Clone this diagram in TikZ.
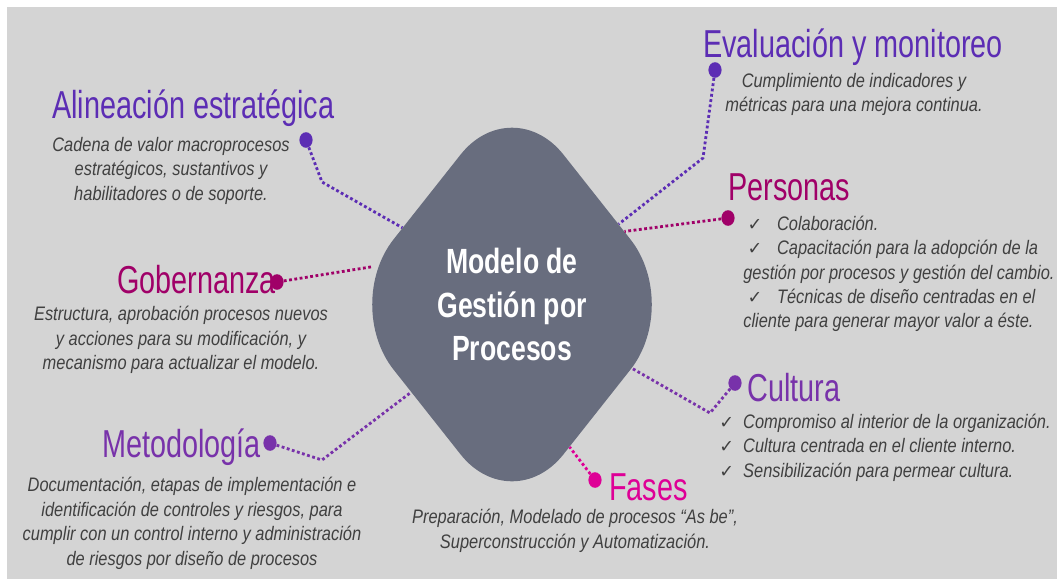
\documentclass[tikz,border=0pt]{standalone}
\usepackage{fontspec}
\setmainfont{Liberation Sans}
\newfontfamily\ttlfont{Liberation Sans}[FakeStretch=0.74]
\newfontfamily\dscfont{Liberation Sans}[FakeStretch=0.84]
\newfontfamily\mdlfont{Liberation Sans}[FakeStretch=0.76]
\newfontfamily\tickfont{DejaVu Sans}
\usetikzlibrary{shapes,positioning}

\definecolor{bggray}{RGB}{212,212,212}
\definecolor{modelgray}{RGB}{104,109,126}
\definecolor{textgray}{RGB}{64,64,64}
\definecolor{bluepurple}{RGB}{92,45,180}
\definecolor{wine}{RGB}{160,0,104}
\definecolor{violet}{RGB}{120,50,170}
\definecolor{pink}{RGB}{222,0,150}

% check mark with box width and left shift
\newcommand{\chk}[2]{\makebox[#1][l]{\hspace*{#2}{\tickfont\fontsize{12.5}{12}\selectfont ✓}}}

\begin{document}
\begin{tikzpicture}[
    x=0.025cm, y=-0.025cm,
    title node/.style={inner sep=0pt, anchor=base west, font=\ttlfont\fontsize{27.7}{30}\selectfont},
    desc node/.style={inner sep=0pt, anchor=north, align=center, text=textgray, font=\dscfont\itshape\fontsize{13.9}{17.4}\selectfont},
    list node/.style={inner sep=0pt, anchor=north west, align=left, text=textgray, font=\dscfont\itshape\fontsize{13.9}{17.2}\selectfont},
    dot node/.style={ellipse, inner sep=0pt, minimum width=0.33cm, minimum height=0.39cm},
    model node/.style={diamond, fill=modelgray, rounded corners=2.075cm, minimum width=8.5cm, minimum height=10.75cm, inner sep=0pt, text=white, align=center, font=\mdlfont\bfseries\fontsize{24.9}{30.6}\selectfont},
    link/.style={line width=2pt, dash pattern=on 2pt off 1.8pt}
]

% Background
\useasboundingbox (0,0) rectangle (1057,579);
\fill[bggray] (7,7) rectangle (1057,579);

% Center
\node[model node] (model) at (512,304.5) {Modelo de\\Gestión por\\Procesos};

% Titles
\node[title node, text=bluepurple] (alineacion) at (52,118) {Alineación estratégica};
\node[title node, text=bluepurple] (evaluacion) at (703,57) {Evaluación y monitoreo};
\node[title node, text=wine] (personas) at (728,200) {Personas};
\node[title node, text=wine] (gobernanza) at (117,293) {Gobernanza};
\node[title node, text=violet] (metodologia) at (102,457) {Metodología};
\node[title node, text=violet] (cultura) at (747,401) {Cultura};
\node[title node, text=pink] (fases) at (609,500) {Fases};

% Descriptions
\node[desc node] (aldesc) at (171,137) {Cadena de valor macroprocesos\\estratégicos, sustantivos y\\habilitadores o de soporte.};
\node[desc node] (evdesc) at (854,73) {Cumplimiento de indicadores y\\métricas para una mejora continua.};
\node[desc node] (gobdesc) at (181,306) {Estructura, aprobación procesos nuevos\\y acciones para su modificación, y\\mecanismo para actualizar el modelo.};
\node[desc node] (metdesc) at (192,477) {Documentación, etapas de implementación e\\identificación de controles y riesgos, para\\cumplir con un control interno y administración\\de riesgos por diseño de procesos};
\node[desc node] (fasdesc) at (575,509) {Preparación, Modelado de procesos “As be”,\\Superconstrucción y Automatización.};

% Lists
\node[list node] (perlist) at (743,216) {\chk{24pt}{3pt}Colaboración.\\
    \chk{24pt}{3pt}Capacitación para la adopción de la\\
    gestión por procesos y gestión del cambio.\\
    \chk{24pt}{3pt}Técnicas de diseño centradas en el\\
    cliente para generar mayor valor a éste.};
\node[list node] (cullist) at (719,414) {\chk{17pt}{0pt}Compromiso al interior de la organización.\\
    \chk{17pt}{0pt}Cultura centrada en el cliente interno.\\
    \chk{17pt}{0pt}Sensibilización para permear cultura.};

% Dots
\node[dot node, fill=bluepurple] (aldot) at (306,140) {};
\node[dot node, fill=bluepurple] (evdot) at (715,70) {};
\node[dot node, fill=wine] (perdot) at (728,218) {};
\node[dot node, fill=wine] (gobdot) at (277,282) {};
\node[dot node, fill=violet] (metdot) at (270,443) {};
\node[dot node, fill=violet] (culdot) at (735,383) {};
\node[dot node, fill=pink] (fasdot) at (595,480) {};

% Bends
\coordinate (albend) at (322,182);
\coordinate (evbend) at (703,158);
\coordinate (metbend) at (322,460);
\coordinate (culbend) at (710,413);

% Links
\draw[link, bluepurple] (aldot) -- (albend) -- (model.145);
\draw[link, bluepurple] (evdot) -- (evbend) -- (model.37);
\draw[link, wine] (perdot) -- (model.33);
\draw[link, wine] (gobdot) -- (model.165);
\draw[link, violet] (metdot) -- (metbend) -- (model.221);
\draw[link, violet] (culdot) -- (culbend) -- (model.332);
\draw[link, pink] (fasdot) -- (model.292);

\end{tikzpicture}
\end{document}
